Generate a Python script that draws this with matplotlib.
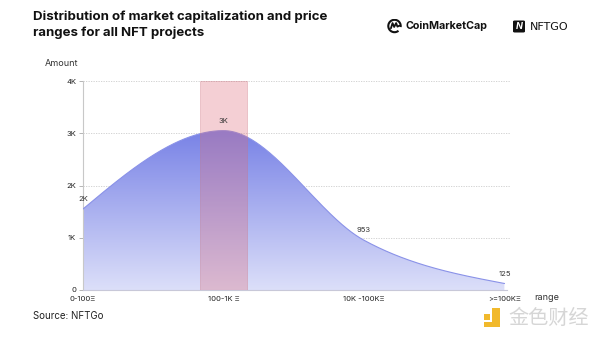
import numpy as np
import matplotlib
matplotlib.use("Agg")
import matplotlib.pyplot as plt
from matplotlib.patches import Rectangle, FancyBboxPatch, Arc
from matplotlib.path import Path
from matplotlib.patches import PathPatch

# Data
categories = ["0-100Ξ", "100-1K Ξ", "10K -100KΞ", ">=100KΞ"]
amounts = [1550, 3050, 953, 125]
highlight_index = 1
y_ticks = [0, 1000, 2000, 3000, 4000]
y_tick_labels = ["0", "1K", "2K", "3K", "4K"]


def fmt(v):
    return f"{v / 1000:.0f}K" if v >= 1000 else f"{v:.0f}"


def smooth_curve(xs, ys, n=400):
    """Cubic Hermite through the points: cardinal tangents inside,
    flat tangents at local extrema, one-sided tangents at the ends."""
    xs = np.asarray(xs, float)
    ys = np.asarray(ys, float)
    h = np.diff(xs)
    s = np.diff(ys) / h
    m = np.zeros_like(ys)
    for i in range(1, len(xs) - 1):
        if s[i - 1] * s[i] <= 0:
            m[i] = 0.0
        else:
            m[i] = (ys[i + 1] - ys[i - 1]) / (xs[i + 1] - xs[i - 1])
    m[0] = (3 * s[0] - m[1]) / 2
    m[-1] = (3 * s[-1] - m[-2]) / 2
    xx = np.linspace(xs[0], xs[-1], n)
    yy = np.empty_like(xx)
    for k, x in enumerate(xx):
        i = min(np.searchsorted(xs, x, side="right") - 1, len(xs) - 2)
        t = (x - xs[i]) / h[i]
        h00 = 2 * t**3 - 3 * t**2 + 1
        h10 = t**3 - 2 * t**2 + t
        h01 = -2 * t**3 + 3 * t**2
        h11 = t**3 - t**2
        yy[k] = h00 * ys[i] + h10 * h[i] * m[i] + h01 * ys[i + 1] + h11 * h[i] * m[i + 1]
    return xx, yy


plt.rcParams["font.family"] = ["Inter", "DejaVu Sans"]

fig = plt.figure(figsize=(6.0, 3.43), dpi=100)
ax = fig.add_axes([83 / 600, 1 - 290 / 343, (510 - 83) / 600, (290 - 81) / 343])

x = np.arange(len(categories))
xx, yy = smooth_curve(x, amounts)

# gradient area under the curve
ymax = max(amounts)
grad = np.linspace(0, 1, 256).reshape(-1, 1)
top = np.array([0x78, 0x82, 0xe6]) / 255
bottom = np.array([0xdc, 0xdf, 0xf9]) / 255
img = bottom + (top - bottom) * grad[..., None]
im = ax.imshow(img, extent=[0, 3, 0, ymax], origin="lower", aspect="auto", zorder=2)
verts = np.column_stack([np.r_[xx, xx[-1], xx[0]], np.r_[yy, 0, 0]])
clip = PathPatch(Path(verts), transform=ax.transData, facecolor="none", edgecolor="none")
ax.add_patch(clip)
im.set_clip_path(clip)
ax.plot(xx, yy, color="#8a92e8", lw=0.8, zorder=3)

# highlighted range
ax.add_patch(Rectangle((highlight_index - 0.165, 0), 0.33, 4000,
                       facecolor=(0.87, 0.42, 0.48), alpha=0.32, edgecolor=(0.8, 0.45, 0.5),
                       lw=0.7, zorder=4))

# value labels
for xi, v in zip(x, amounts):
    ax.annotate(fmt(v), (xi, v), xytext=(0, 5), textcoords="offset points",
                ha="center", va="bottom", fontsize=5.5, color="#333333", zorder=5)

ax.set_xlim(0, 3.04)
ax.set_ylim(0, 4000)
ax.set_yticks(y_ticks)
ax.set_yticklabels(y_tick_labels)
ax.set_xticks(x)
ax.set_xticklabels(categories)
ax.tick_params(axis="y", length=3, width=0.6, color="#aaaaaa", labelsize=5.5, pad=2, labelcolor="#222222")
ax.tick_params(axis="x", length=0, labelsize=5.5, pad=4, labelcolor="#222222")
for yv in y_ticks[1:]:
    ax.axhline(yv, color="#cccccc", lw=0.6, ls=(0, (1.5, 1.5)), zorder=1)
for side in ["top", "right"]:
    ax.spines[side].set_visible(False)
ax.spines["left"].set_color("#c8c8c8")
ax.spines["left"].set_linewidth(0.8)
ax.spines["bottom"].set_color("#c8c8d8")
ax.spines["bottom"].set_linewidth(0.8)
ax.spines["bottom"].set_bounds(0, 3.02)
ax.set_facecolor("none")

# axis titles
fig.text(45 / 600, 1 - 63 / 343, "Amount", fontsize=6.5, color="#333333", va="center")
fig.text(534 / 600, 1 - 297 / 343, "range", fontsize=6.5, color="#333333", va="center")

# heading
fig.text(33 / 600, 1 - 25 / 343, "Distribution of market capitalization and price\nranges for all NFT projects",
         fontsize=9.5, fontweight="bold", color="#111111", va="center", linespacing=1.35)
fig.text(33 / 600, 1 - 316 / 343, "Source: NFTGo", fontsize=7, color="#222222", va="center")

# CoinMarketCap mark
lg = fig.add_axes([387 / 600, 1 - 33.5 / 343, 15 / 600, 15 / 343])
lg.set_xlim(-1.15, 1.15)
lg.set_ylim(-1.15, 1.15)
lg.set_aspect("equal")
lg.axis("off")
lg.add_patch(Arc((0, 0), 1.9, 1.9, theta1=-10, theta2=310, color="#111111", lw=1.5))
wave = np.array([[-0.55, -0.35], [-0.3, 0.45], [-0.05, -0.15], [0.25, 0.45], [0.45, -0.1], [0.75, 0.05]])
lg.plot(wave[:, 0], wave[:, 1], color="#111111", lw=1.3, solid_joinstyle="round", solid_capstyle="round")
fig.text(405 / 600, 1 - 26 / 343, "CoinMarketCap", fontsize=7.7, fontweight="bold", color="#111111", va="center")

# NFTGO mark
fig.patches.append(FancyBboxPatch((513 / 600, 1 - 32.5 / 343), 12 / 600, 12 / 343,
                                  boxstyle="round,pad=0,rounding_size=0.003",
                                  transform=fig.transFigure, facecolor="#111111", edgecolor="none"))
fig.text(519 / 600, 1 - 26.5 / 343, "N", fontsize=6.5, fontweight="bold", style="italic",
         ha="center", va="center", color="white")
fig.text(530 / 600, 1 - 26.5 / 343, "NFTGO", fontsize=8, color="#111111", va="center",
         family=["DejaVu Sans"])

# watermark
for (x0, y0, w, h) in [(492, 308, 8, 19), (484, 322, 16, 5), (483.5, 314, 6, 6)]:
    fig.patches.append(Rectangle((x0 / 600, 1 - (y0 + h) / 343), w / 600, h / 343,
                                 transform=fig.transFigure, facecolor="#f1b92c", edgecolor="none"))
fig.text(508 / 600, 1 - 318 / 343, "金色财经", fontsize=14.5, color="#d6d6d6", va="center",
         family=["Noto Sans CJK SC", "DejaVu Sans"])

fig.savefig("out.png", dpi=100)
